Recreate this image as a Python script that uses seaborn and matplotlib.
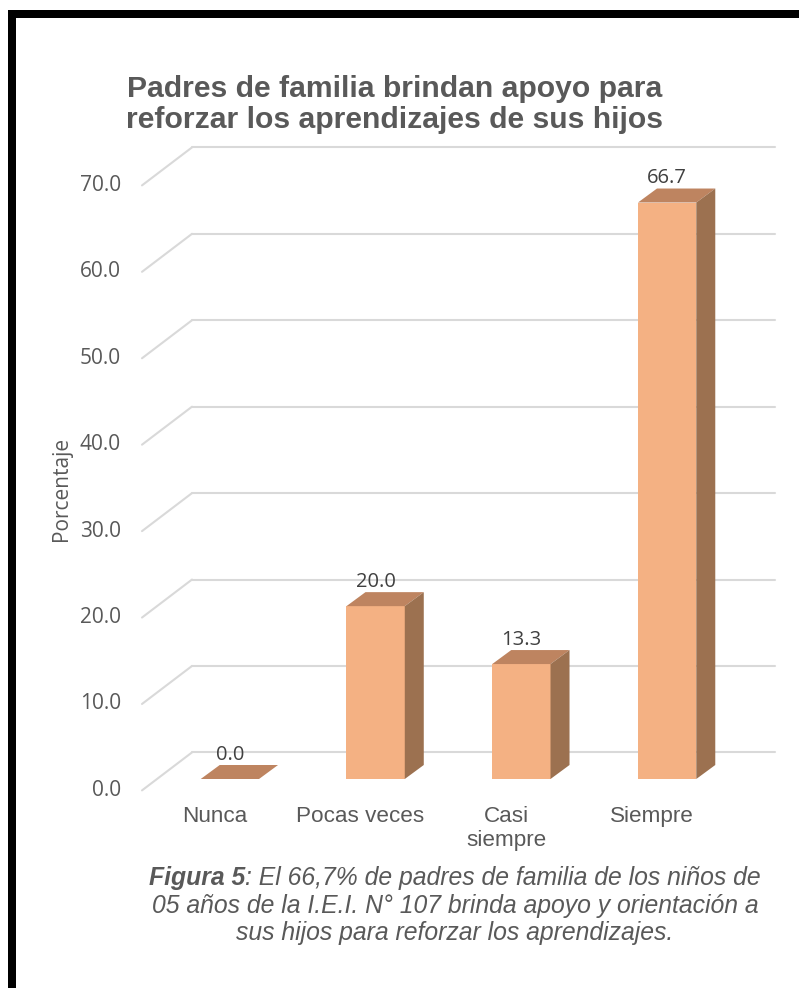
import matplotlib
matplotlib.use("Agg")
import matplotlib.pyplot as plt
from matplotlib.patches import Polygon, Rectangle
import pandas as pd
import seaborn as sns

categories = ["Nunca", "Pocas veces", "Casi siempre", "Siempre"]
tick_labels = ["Nunca", "Pocas veces", "Casi\nsiempre", "Siempre"]
values = [0.0, 20.0, 13.3, 66.7]
y_ticks = [0, 10, 20, 30, 40, 50, 60, 70]

title_l1 = "Padres de familia brindan apoyo para"
title_l2 = "reforzar los aprendizajes de sus hijos"
cap_bold = "Figura 5"
cap_line1 = ": El 66,7% de padres de familia de los niños de"
cap_line2 = "05 años de la I.E.I. N° 107 brinda apoyo y orientación a"
cap_line3 = "sus hijos para reforzar los aprendizajes."

FRONT = "#F4B183"
TOP = "#BE8460"
SIDE = "#9C7150"
GRID = "#D9D9D9"
TXT = "#595959"

sns.set_theme(style="white")
plt.rcParams["font.family"] = ["Liberation Sans", "DejaVu Sans"]

W, H, DPI = 799, 988, 100
fig = plt.figure(figsize=(W / DPI, H / DPI), dpi=DPI)

# axes = plane of the bar front faces (pixel geometry of the reference)
left_px, right_px, y0_px, y70_px = 157, 740, 779, 174
ax = fig.add_axes([left_px / W, (H - y0_px) / H,
                   (right_px - left_px) / W, (y0_px - y70_px) / H])

ppx = (right_px - left_px) / 4.0      # pixels per category unit
ppy = (y0_px - y70_px) / 70.0         # pixels per percent

def ox(px):
    return px / ppx

def oy(px):
    return px / ppy

# back wall / front plane offsets relative to bar front plane (pixels)
back_dx, back_dy = 35, 26.6
front_dx, front_dy = -15, -11.4
bar_dx, bar_dy = 19, 14

# grid: back horizontal lines + diagonal side-wall lines
for v in y_ticks:
    ax.plot([-0.5 + ox(back_dx), 3.5 + ox(back_dx)], [v + oy(back_dy)] * 2,
            color=GRID, lw=1.5, clip_on=False, zorder=0)
    ax.plot([-0.5 + ox(front_dx), -0.5 + ox(back_dx)],
            [v + oy(front_dy), v + oy(back_dy)],
            color=GRID, lw=1.5, clip_on=False, zorder=0)
    ax.text(-0.5 + ox(front_dx - 21), v + oy(front_dy), f"{v:.1f}",
            ha="right", va="center", fontsize=15, color=TXT,
            family=["Open Sans", "DejaVu Sans"])

df = pd.DataFrame({"cat": categories, "val": values})
sns.barplot(data=df, x="cat", y="val", color=FRONT, width=0.4,
            saturation=1, linewidth=0, ax=ax, zorder=3)
ax.set_xlim(-0.5, 3.5)
ax.set_ylim(0, 70)
ax.axis("off")

hw = 0.2
for i, v in enumerate(values):
    dx, dy = ox(bar_dx), oy(bar_dy)
    top = [(i - hw, v), (i + hw, v), (i + hw + dx, v + dy), (i - hw + dx, v + dy)]
    ax.add_patch(Polygon(top, closed=True, facecolor=TOP, edgecolor="none",
                         zorder=4, clip_on=False))
    if v > 0:
        side = [(i + hw, 0), (i + hw + dx, dy), (i + hw + dx, v + dy), (i + hw, v)]
        ax.add_patch(Polygon(side, closed=True, facecolor=SIDE, edgecolor="none",
                             zorder=4, clip_on=False))
    ax.text(i, v + dy + oy(0.5), f"{v:.1f}", ha="center", va="bottom",
            fontsize=14.5, color="#404040", family=["Open Sans", "DejaVu Sans"],
            zorder=5, clip_on=False)

for i, lab in enumerate(tick_labels):
    ax.text(i + ox(front_dx), oy(front_dy - 16), lab, ha="center", va="top",
            fontsize=16.2, color=TXT, linespacing=1.15, clip_on=False)

fig.text(62 / W, 1 - 489 / H, "Porcentaje", rotation=90, ha="center", va="center",
         fontsize=15, color=TXT, family=["Open Sans", "DejaVu Sans"])

fig.text(395 / W, 1 - 97 / H, title_l1, ha="center", va="baseline", fontsize=21.7,
         fontweight="bold", color=TXT)
fig.text(395 / W, 1 - 128 / H, title_l2, ha="center", va="baseline", fontsize=21.7,
         fontweight="bold", color=TXT)

# caption: bold-italic "Figura 5" followed by italic text
renderer = fig.canvas.get_renderer()
cx = 455 / W
cap_fs = 17.8
t_b = fig.text(0, 0, cap_bold, fontsize=cap_fs, fontstyle="italic", fontweight="bold",
               va="baseline", color=TXT)
t_r = fig.text(0, 0, cap_line1, fontsize=cap_fs, fontstyle="italic",
               va="baseline", color=TXT)
wb = t_b.get_window_extent(renderer).width / W
wr = t_r.get_window_extent(renderer).width / W
start = cx - (wb + wr) / 2
t_b.set_position((start, 1 - 885 / H))
t_r.set_position((start + wb, 1 - 885 / H))
fig.text(cx, 1 - 913 / H, cap_line2, ha="center", va="baseline", fontsize=cap_fs,
         fontstyle="italic", color=TXT)
fig.text(cx, 1 - 940 / H, cap_line3, ha="center", va="baseline", fontsize=cap_fs,
         fontstyle="italic", color=TXT)

# black frame on top and left
fig.patches.append(Rectangle((8 / W, 1 - 18 / H), 1, 8 / H, transform=fig.transFigure,
                             facecolor="black", edgecolor="none"))
fig.patches.append(Rectangle((8 / W, 0), 8 / W, 1 - 10 / H, transform=fig.transFigure,
                             facecolor="black", edgecolor="none"))

fig.savefig("out.png", dpi=DPI)
